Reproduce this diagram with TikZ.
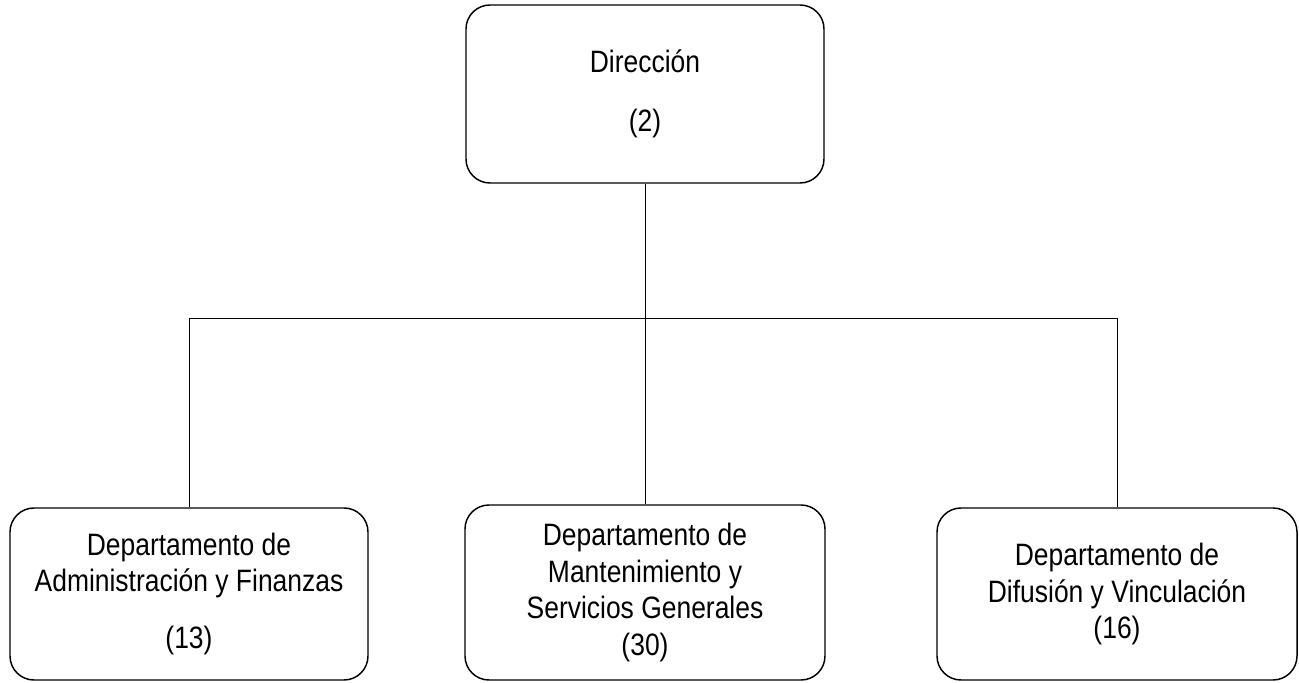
\documentclass[tikz,border=0pt]{standalone}
\usepackage{fontspec}
\setmainfont[FakeStretch=0.855]{Liberation Sans}

\begin{document}
\begin{tikzpicture}[x=0.75pt,y=-0.75pt]
\useasboundingbox (0,0) rectangle (1299,682);
\begin{scope}[every node/.style={draw,line width=1.1pt,rounded corners=18pt,align=center,
                                 minimum width=268.5pt,minimum height=129pt,
                                 font=\fontsize{23.2}{27.5}\selectfont}]
    \node (dir) at (645,94) [minimum height=133.5pt] {Dirección\\[16.75pt](2)};
    \node (adm) at (189,594) {Departamento de\\Administración y Finanzas\\[15.25pt](13)};
    \node (mant) at (645,592.5) [minimum width=270pt,minimum height=131.25pt] {Departamento de\\Mantenimiento y\\Servicios Generales\\(30)};
    \node (dif) at (1117,594) [minimum width=270pt] {Departamento de\\Difusión y Vinculación\\(16)};
\end{scope}

\coordinate (bus) at (0,318);
\begin{scope}[line width=0.7pt]
    \draw (dir.south) -- (mant.north);
    \draw (adm.north) -- (adm.north |- bus) -- (dif.north |- bus) -- (dif.north);
\end{scope}
\end{tikzpicture}
\end{document}
